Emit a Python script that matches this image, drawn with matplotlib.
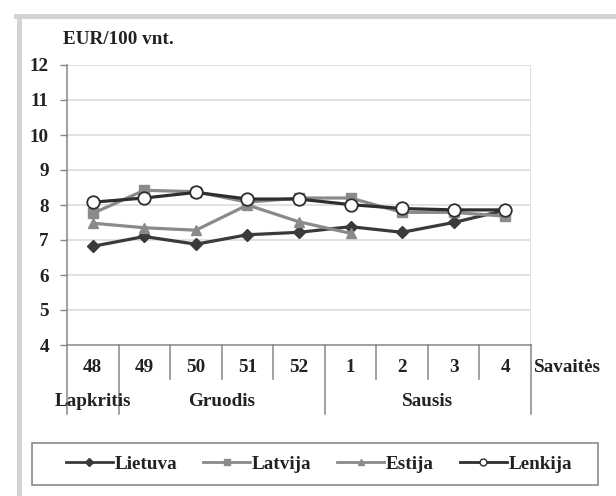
import numpy as np
import matplotlib
matplotlib.use("Agg")
import matplotlib.pyplot as plt
from matplotlib.lines import Line2D
from matplotlib.patches import Rectangle
import matplotlib.transforms as mtransforms

plt.rcParams['font.family'] = ['Liberation Serif', 'DejaVu Serif']
plt.rcParams['font.weight'] = 'bold'

weeks = ['48', '49', '50', '51', '52', '1', '2', '3', '4']
months = ['Lapkritis', 'Gruodis', 'Sausis']
month_spans = [(0, 0), (1, 4), (5, 8)]
lietuva = [6.82, 7.10, 6.88, 7.15, 7.22, 7.38, 7.22, 7.50, 7.85]
latvija = [7.76, 8.42, 8.38, 8.08, 8.20, 8.20, 7.79, 7.79, 7.68]
estija = [7.48, 7.35, 7.28, 8.00, 7.52, 7.19, np.nan, np.nan, np.nan]
lenkija = [8.08, 8.20, 8.36, 8.17, 8.17, 8.01, 7.90, 7.86, 7.86]
yticks = [4, 5, 6, 7, 8, 9, 10, 11, 12]

FS = 13.8
TXT = '#222222'
W, H = 616, 496
fig = plt.figure(figsize=(W / 100, H / 100), dpi=100)
fig.patch.set_facecolor('white')

# outer light-gray frame
fig.add_artist(Line2D([18.5 / W, 18.5 / W], [0, 1 - 15.5 / H], transform=fig.transFigure,
                      color='#d3d3d3', lw=3.6))
fig.add_artist(Line2D([16 / W, 1], [1 - 15.5 / H, 1 - 15.5 / H], transform=fig.transFigure,
                      color='#d3d3d3', lw=3.6))

x0, x1, ytop, ybot = 67, 531, 65, 345
ax = fig.add_axes([x0 / W, 1 - ybot / H, (x1 - x0) / W, (ybot - ytop) / H])
ax.set_xlim(-0.5, len(weeks) - 0.5)
ax.set_ylim(4, 12)
x = np.arange(len(weeks))

ax.set_yticks(yticks)
ax.set_yticklabels([str(v) for v in yticks], fontsize=FS, fontweight='bold', color=TXT)
ax.tick_params(axis='y', length=5, width=1, color='#868686', pad=8)
ax.set_xticks([])
for v in yticks[1:]:
    ax.axhline(v, color='#d9d9d9', lw=1.1, zorder=0)
ax.axvline(len(weeks) - 0.5, color='#d9d9d9', lw=1.1, zorder=0)
for s in ['top', 'right']:
    ax.spines[s].set_visible(False)
for s in ['left', 'bottom']:
    ax.spines[s].set_color('#868686')
    ax.spines[s].set_linewidth(1.1)

dark = '#3a3a3a'
gray = '#8a8a8a'
ax.plot(x, lietuva, color=dark, lw=2.3, marker='D', ms=6.5, mfc=dark, mec=dark, zorder=3)
ax.plot(x, latvija, color=gray, lw=2.3, marker='s', ms=6.5, mfc=gray, mec=gray, zorder=3)
ax.plot(x, estija, color=gray, lw=2.3, marker='^', ms=7.5, mfc=gray, mec=gray, zorder=3)
ax.plot(x, lenkija, color='#2e2e2e', lw=2.3, marker='o', ms=9, mfc='white', mec='#2e2e2e',
        mew=1.3, zorder=4)

# category axis
trans = mtransforms.blended_transform_factory(ax.transData, ax.transAxes)
ah = ybot - ytop
def fy(py):
    return -(py - ybot) / ah

long_bounds = {-0.5, 0.5, 4.5, 8.5}
for b in np.arange(-0.5, len(weeks), 1.0):
    yend = 414 if b in long_bounds else 379
    ax.plot([b, b], [0, fy(yend)], transform=trans, color='#868686', lw=1.1, clip_on=False)
for i, w in enumerate(weeks):
    ax.text(i, fy(368), w, transform=trans, ha='center', va='center', fontsize=FS,
            fontweight='bold', color=TXT)
for m, (a, b) in zip(months, month_spans):
    ax.text((a + b) / 2, fy(401), m, transform=trans, ha='center', va='center', fontsize=FS,
            fontweight='bold', color=TXT)
ax.text(1.006, fy(368), 'Savaitės', transform=ax.transAxes, ha='left', va='center',
        fontsize=FS, fontweight='bold', color=TXT)
ax.text(63 / W, 1 - 39 / H, 'EUR/100 vnt.', transform=fig.transFigure, ha='left', va='center',
        fontsize=FS, fontweight='bold', color=TXT)

# legend frame
fig.add_artist(Rectangle((32 / W, 1 - 485 / H), (598 - 32) / W, (485 - 443) / H,
                         transform=fig.transFigure, fill=False, edgecolor='#808080', lw=1.1))
handles = [
    Line2D([], [], color=dark, lw=2.0, marker='D', ms=4, mfc=dark, mec=dark),
    Line2D([], [], color=gray, lw=2.0, marker='s', ms=4.5, mfc=gray, mec=gray),
    Line2D([], [], color=gray, lw=2.0, marker='^', ms=5, mfc=gray, mec=gray),
    Line2D([], [], color='#2e2e2e', lw=2.0, marker='o', ms=5, mfc='white', mec='#2e2e2e'),
]
labels = ['Lietuva', 'Latvija', 'Estija', 'Lenkija']
leg = fig.legend(handles, labels, loc='center', ncol=4,
                 bbox_to_anchor=((61 + 577) / 2 / W, 1 - 464 / H),
                 prop={'family': 'Liberation Serif', 'weight': 'bold', 'size': FS},
                 handlelength=2.45, handletextpad=0.1, columnspacing=1.35,
                 borderpad=0.2, frameon=False)
for t in leg.get_texts():
    t.set_color(TXT)

fig.savefig('out.png', dpi=100)
